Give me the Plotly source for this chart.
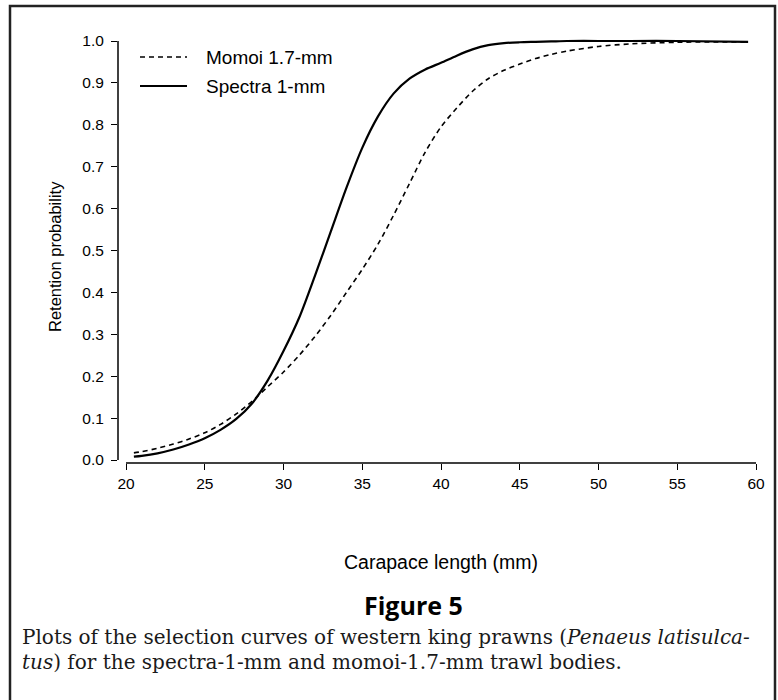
import plotly.graph_objects as go

# Data
length_mm = [20.5, 21, 22, 23, 24, 25, 26, 27, 28, 29, 30, 31, 32, 33, 34, 35, 36, 37, 38, 39,
             40, 41, 42, 43, 44, 45, 46, 47, 48, 50, 52, 55, 59.5]
spectra_1mm = [0.008, 0.010, 0.016, 0.025, 0.037, 0.052, 0.072, 0.098, 0.135, 0.19, 0.26, 0.34,
               0.44, 0.545, 0.65, 0.745, 0.82, 0.875, 0.91, 0.932, 0.948, 0.965, 0.98, 0.99, 0.995,
               0.997, 0.998, 0.999, 1.0, 1.0, 1.0, 1.0, 0.998]
momoi_17mm = [0.017, 0.020, 0.028, 0.038, 0.050, 0.065, 0.085, 0.11, 0.14, 0.175, 0.21, 0.25,
              0.295, 0.345, 0.40, 0.455, 0.515, 0.585, 0.66, 0.735, 0.795, 0.84, 0.88, 0.91, 0.93,
              0.945, 0.958, 0.968, 0.976, 0.987, 0.993, 0.997, 0.998]
x_ticks = [20, 25, 30, 35, 40, 45, 50, 55, 60]
y_ticks = [0.0, 0.1, 0.2, 0.3, 0.4, 0.5, 0.6, 0.7, 0.8, 0.9, 1.0]
legend_names = ["Momoi 1.7-mm", "Spectra 1-mm"]

W, H = 778, 700
L, R, T, B = 118, 756, 37, 463
pw, ph = R - L, B - T

def px(x):
    return (x - L) / pw

def py(y):
    return (B - y) / ph

SANS = "Liberation Sans, Arial, sans-serif"
SERIF = "DejaVu Serif, serif"
DASH = "5px,4px"

fig = go.Figure()
fig.add_trace(go.Scatter(x=length_mm, y=momoi_17mm, mode="lines", name=legend_names[0],
                         showlegend=False,
                         line=dict(color="black", width=1.6, dash=DASH, shape="spline", smoothing=0.8)))
fig.add_trace(go.Scatter(x=length_mm, y=spectra_1mm, mode="lines", name=legend_names[1],
                         showlegend=False,
                         line=dict(color="black", width=2.2, shape="spline", smoothing=0.8)))

fig.update_layout(
    width=W, height=H,
    margin=dict(l=L, r=W - R, t=T, b=H - B, pad=0),
    paper_bgcolor="white", plot_bgcolor="white",
    showlegend=False,
    font=dict(family=SANS, color="black"),
)

x0 = 20 - (126 - L) / (756 - 126) * 40
fig.update_xaxes(range=[x0, 60], tickvals=x_ticks, ticktext=[str(v) for v in x_ticks],
                 showline=False, showgrid=False, zeroline=False,
                 ticks="outside", ticklen=6, tickwidth=1.3, tickcolor="black",
                 tickfont=dict(family=SANS, size=15.5, color="black"))
ylo = -(B - 460) / 419
yhi = ylo + ph / 419
fig.update_yaxes(range=[ylo, yhi], tickvals=y_ticks, ticktext=[f"{v:.1f}" for v in y_ticks],
                 showline=False, showgrid=False, zeroline=False,
                 ticks="outside", ticklen=6, tickwidth=1.3, tickcolor="black",
                 ticklabelstandoff=4,
                 tickfont=dict(family=SANS, size=15.5, color="black"))

shapes = [
    # y axis line from 0.0 to 1.0
    dict(type="line", xref="paper", yref="y", x0=0, x1=0, y0=0, y1=1.0,
         line=dict(color="black", width=1.5)),
    # x axis line from 20 to 60
    dict(type="line", xref="x", yref="paper", x0=20, x1=60, y0=0, y1=0,
         line=dict(color="black", width=1.5)),
    # legend samples
    dict(type="line", xref="paper", yref="paper", x0=px(140), x1=px(187), y0=py(57), y1=py(57),
         line=dict(color="black", width=1.6, dash=DASH)),
    dict(type="line", xref="paper", yref="paper", x0=px(140), x1=px(187), y0=py(86), y1=py(86),
         line=dict(color="black", width=2.0)),
    # figure frame
    dict(type="path", xref="paper", yref="paper",
         path=f"M {px(10)} {py(700)} L {px(10)} {py(6)} L {px(775)} {py(6)} L {px(775)} {py(700)}",
         line=dict(color="#222", width=2.5)),
]
fig.update_layout(shapes=shapes)

annotations = [
    dict(text=legend_names[0], xref="paper", yref="paper", x=px(204), y=py(57),
         showarrow=False, xanchor="left", yanchor="middle",
         font=dict(family=SANS, size=19, color="black")),
    dict(text=legend_names[1], xref="paper", yref="paper", x=px(204), y=py(86),
         showarrow=False, xanchor="left", yanchor="middle",
         font=dict(family=SANS, size=19, color="black")),
    dict(text="Retention probability", xref="paper", yref="paper", x=px(55), y=py(257),
         showarrow=False, textangle=-90, xanchor="center", yanchor="middle",
         font=dict(family=SANS, size=16.5, color="black")),
    dict(text="Carapace length (mm)", xref="paper", yref="paper", x=px(441), y=py(562),
         showarrow=False, xanchor="center", yanchor="middle",
         font=dict(family=SANS, size=19.5, color="black")),
    dict(text="<b>Figure 5</b>", xref="paper", yref="paper", x=px(413), y=py(605),
         showarrow=False, xanchor="center", yanchor="middle",
         font=dict(family="Open Sans, sans-serif", size=25, color="black")),
    dict(text="Plots of the selection curves of western king prawns (<i>Penaeus latisulca-</i>",
         xref="paper", yref="paper", x=px(20), y=py(637), showarrow=False,
         xanchor="left", yanchor="middle",
         font=dict(family=SERIF, size=20, color="#1a1a1a")),
    dict(text="<i>tus</i>) for the spectra-1-mm and momoi-1.7-mm trawl bodies.",
         xref="paper", yref="paper", x=px(20), y=py(662), showarrow=False,
         xanchor="left", yanchor="middle",
         font=dict(family=SERIF, size=20, color="#1a1a1a")),
]
fig.update_layout(annotations=annotations)

fig.write_html("out.html", config={"displayModeBar": False},
               post_script="document.body.style.margin='0';")
